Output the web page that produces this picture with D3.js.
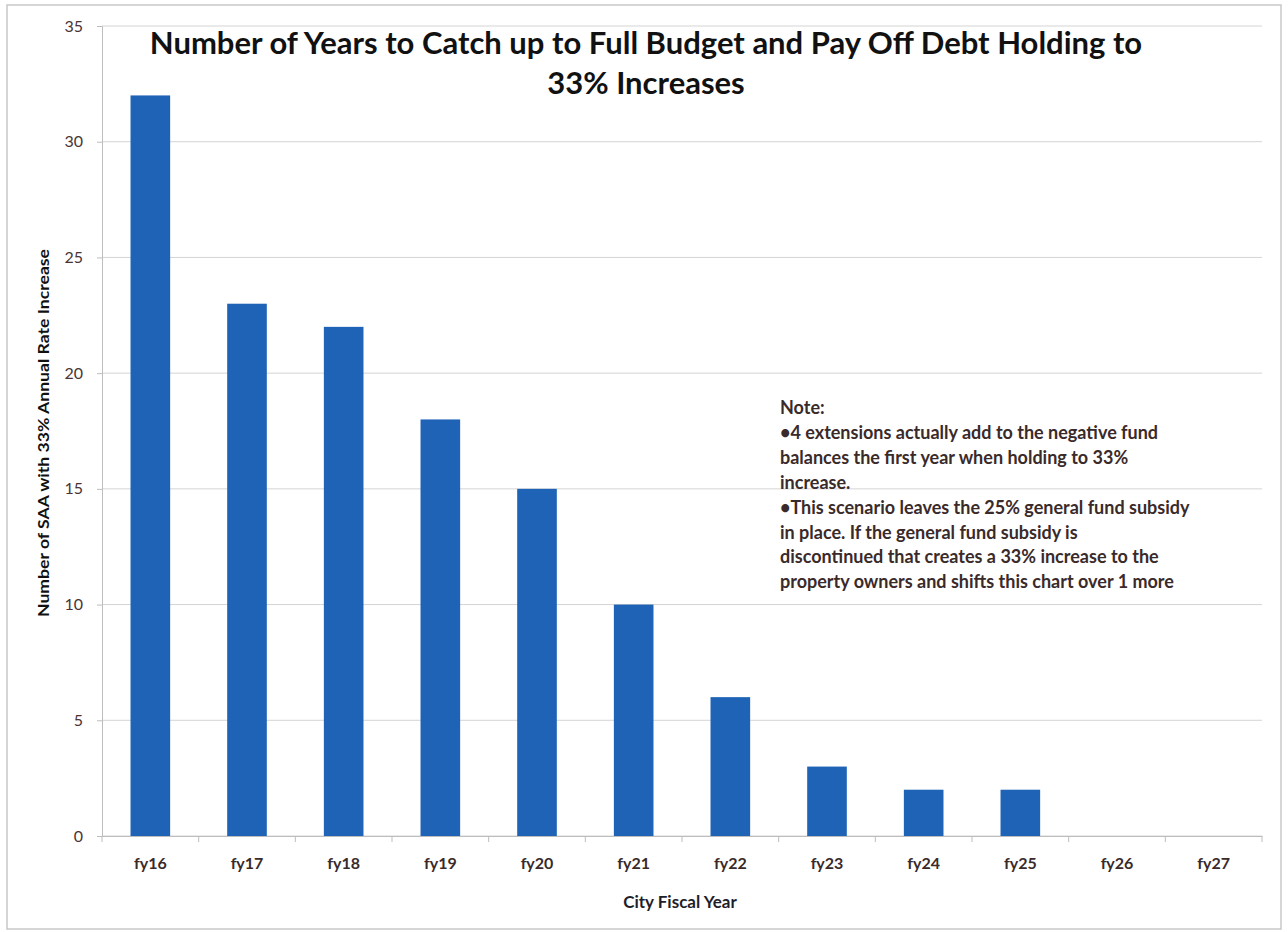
<!DOCTYPE html>
<html>
<head>
<meta charset="utf-8">
<script src="https://cdn.jsdelivr.net/npm/d3@7"></script>
<style>
  body { margin: 0; background: #fff; }
  svg { display: block; font-family: Lato, "Open Sans", sans-serif; }
</style>
</head>
<body>
<svg id="chart"></svg>
<script>
const years = ['fy16', 'fy17', 'fy18', 'fy19', 'fy20', 'fy21', 'fy22', 'fy23', 'fy24', 'fy25', 'fy26', 'fy27'];
const saaCounts = [32, 23, 22, 18, 15, 10, 6, 3, 2, 2, 0, 0];
const yTicks = [0, 5, 10, 15, 20, 25, 30, 35];
const titleLines = ['Number of Years to Catch up to Full Budget and Pay Off Debt Holding to', '33% Increases'];
const noteLines = [
  'Note:',
  '\u20224 extensions actually add to the negative fund',
  'balances the first year when holding to 33%',
  'increase.',
  '\u2022This scenario leaves the 25% general fund subsidy',
  'in place.  If the general fund subsidy is',
  'discontinued that creates a 33% increase to the',
  'property owners and shifts this chart over 1 more'
];

const width = 1288, height = 932;
const margin = { top: 26, right: 26, bottom: 96, left: 102 };

const svg = d3.select('#chart')
  .attr('width', width)
  .attr('height', height);

// outer frame
svg.append('rect')
  .attr('x', 7).attr('y', 5)
  .attr('width', width - 14).attr('height', height - 8)
  .attr('fill', 'none')
  .attr('stroke', '#c8c8c8')
  .attr('stroke-width', 1.5);

let x = d3.scaleBand()
  .domain(years)
  .range([margin.left, width - margin.right])
  .paddingInner(0.59)
  .paddingOuter(0.295);

let y = d3.scaleLinear()
  .domain([0, 35])
  .range([height - margin.bottom, margin.top]);

// gridlines
svg.append('g')
  .selectAll('line')
  .data(yTicks)
  .enter()
  .append('line')
  .attr('x1', margin.left)
  .attr('x2', width - margin.right)
  .attr('y1', d => y(d))
  .attr('y2', d => y(d))
  .attr('stroke', '#d4d4d4')
  .attr('stroke-width', 1);

// y axis
const yAxis = svg.append('g')
  .attr('transform', `translate(${margin.left},0)`)
  .call(d3.axisLeft(y).tickValues(yTicks).tickSize(5).tickPadding(14));
yAxis.select('.domain').attr('stroke', '#bdbdbd');
yAxis.selectAll('.tick line').attr('stroke', '#bdbdbd');
yAxis.selectAll('.tick text')
  .attr('fill', '#4a3434')
  .style('font-size', '16px')
  .style('font-family', 'Lato, sans-serif');

// bars
svg.append('g')
  .selectAll('rect')
  .data(years.map((yr, i) => ({ yr, v: saaCounts[i] })))
  .enter()
  .append('rect')
  .attr('x', d => x(d.yr))
  .attr('width', x.bandwidth())
  .attr('y', d => y(d.v))
  .attr('height', d => y(0) - y(d.v))
  .attr('fill', '#1f63b7');

// x axis
const step = x.step();
const xAxis = svg.append('g')
  .attr('transform', `translate(0,${y(0)})`)
  .call(d3.axisBottom(x).tickSize(0).tickPadding(22));
xAxis.select('.domain').attr('stroke', '#bdbdbd');
xAxis.selectAll('.tick text')
  .attr('fill', '#3a2a2a')
  .style('font-size', '16px')
  .style('font-weight', 'bold')
  .style('font-family', 'Lato, sans-serif');
// boundary tick marks between categories
xAxis.append('g')
  .selectAll('line')
  .data(d3.range(years.length + 1))
  .enter()
  .append('line')
  .attr('x1', i => margin.left + i * step)
  .attr('x2', i => margin.left + i * step)
  .attr('y1', 0)
  .attr('y2', 6)
  .attr('stroke', '#bdbdbd');

// title
svg.append('text')
  .attr('text-anchor', 'middle')
  .attr('fill', '#111')
  .style('font-size', '31px')
  .style('font-weight', 'bold')
  .selectAll('tspan')
  .data(titleLines)
  .enter()
  .append('tspan')
  .attr('x', 646)
  .attr('y', (d, i) => 54 + i * 40)
  .text(d => d);

// y axis title
svg.append('text')
  .attr('transform', `translate(49,433) rotate(-90)`)
  .attr('text-anchor', 'middle')
  .attr('fill', '#111')
  .attr('textLength', 368)
  .attr('lengthAdjust', 'spacingAndGlyphs')
  .style('font-size', '16px')
  .style('font-weight', 'bold')
  .text('Number of SAA with 33% Annual Rate Increase');

// x axis title
svg.append('text')
  .attr('x', 680)
  .attr('y', 908)
  .attr('text-anchor', 'middle')
  .attr('fill', '#1e1e2a')
  .style('font-size', '17px')
  .style('font-weight', 'bold')
  .text('City Fiscal Year');

// note box
svg.append('text')
  .attr('fill', '#3a2a2a')
  .style('font-size', '18px')
  .style('font-weight', 'bold')
  .selectAll('tspan')
  .data(noteLines)
  .enter()
  .append('tspan')
  .attr('x', 780)
  .attr('y', (d, i) => 414 + i * 24.9)
  .text(d => d);
</script>
</body>
</html>
